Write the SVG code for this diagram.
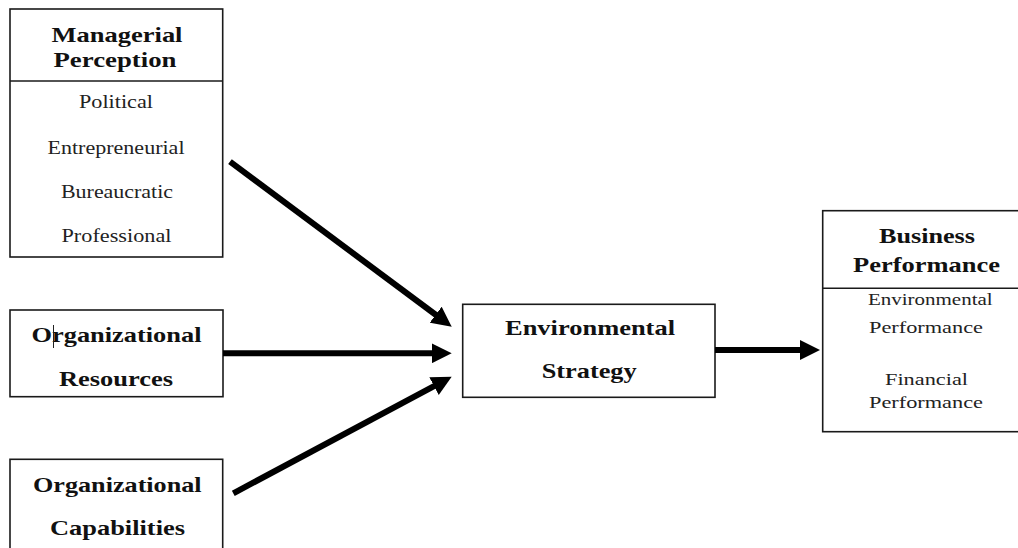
<svg xmlns="http://www.w3.org/2000/svg" width="1018" height="548" viewBox="0 0 1018 548">
<style>
.box{fill:#fff;stroke:#1a1a1a;stroke-width:1.6}
.div{stroke:#1a1a1a;stroke-width:1.4}
.b{font-family:"Liberation Serif","Times New Roman",serif;font-weight:bold;font-size:22px;fill:#111;text-anchor:middle}
.r{font-family:"Liberation Serif","Times New Roman",serif;font-size:18.5px;fill:#222;text-anchor:middle}
.rs{font-family:"Liberation Serif","Times New Roman",serif;font-size:17.5px;fill:#222;text-anchor:middle}
.arr{stroke:#000;stroke-width:6;fill:none;marker-end:url(#ah)}
</style>
<defs>
<marker id="ah" markerUnits="userSpaceOnUse" viewBox="0 0 20 20" markerWidth="20" markerHeight="20" refX="8" refY="10" orient="auto">
<path d="M0,0 L20,10 L0,20 z" fill="#000"/>
</marker>
</defs>
<rect width="1018" height="548" fill="#fff"/>
<g id="managerial-perception">
<rect class="box" x="10" y="9" width="212.7" height="248"/>
<line class="div" x1="10" y1="81" x2="222.7" y2="81"/>
<text class="b" x="117" y="42" textLength="131" lengthAdjust="spacingAndGlyphs">Managerial</text>
<text class="b" x="115" y="67" textLength="123" lengthAdjust="spacingAndGlyphs">Perception</text>
<text class="r" x="116" y="108" textLength="74" lengthAdjust="spacingAndGlyphs">Political</text>
<text class="r" x="116" y="154" textLength="137" lengthAdjust="spacingAndGlyphs">Entrepreneurial</text>
<text class="r" x="117" y="198" textLength="112" lengthAdjust="spacingAndGlyphs">Bureaucratic</text>
<text class="r" x="116.5" y="242" textLength="110" lengthAdjust="spacingAndGlyphs">Professional</text>
</g>
<g id="organizational-resources">
<rect class="box" x="10" y="310" width="213" height="86.7"/>
<text class="b" x="116.5" y="341.7" textLength="170" lengthAdjust="spacingAndGlyphs">Organizational</text>
<text class="b" x="116" y="386" textLength="114" lengthAdjust="spacingAndGlyphs">Resources</text>
<line x1="53.5" y1="325" x2="53.5" y2="348" stroke="#222" stroke-width="1"/>
</g>
<g id="organizational-capabilities">
<rect class="box" x="10" y="459.3" width="212.7" height="110"/>
<text class="b" x="117.3" y="491.7" textLength="168.7" lengthAdjust="spacingAndGlyphs">Organizational</text>
<text class="b" x="117.5" y="535" textLength="135" lengthAdjust="spacingAndGlyphs">Capabilities</text>
</g>
<g id="environmental-strategy">
<rect class="box" x="462.7" y="304.3" width="252.3" height="93"/>
<text class="b" x="590" y="335" textLength="170" lengthAdjust="spacingAndGlyphs">Environmental</text>
<text class="b" x="589.2" y="378.3" textLength="95" lengthAdjust="spacingAndGlyphs">Strategy</text>
</g>
<g id="business-performance">
<rect class="box" x="822.7" y="210.7" width="208" height="221"/>
<line class="div" x1="822.7" y1="288.3" x2="1030.7" y2="288.3"/>
<text class="b" x="927" y="243.3" textLength="96" lengthAdjust="spacingAndGlyphs">Business</text>
<text class="b" x="926.5" y="271.7" textLength="147" lengthAdjust="spacingAndGlyphs">Performance</text>
<text class="rs" x="930.3" y="305" textLength="124.7" lengthAdjust="spacingAndGlyphs">Environmental</text>
<text class="rs" x="926" y="333" textLength="114" lengthAdjust="spacingAndGlyphs">Performance</text>
<text class="rs" x="926.5" y="385" textLength="83" lengthAdjust="spacingAndGlyphs">Financial</text>
<text class="rs" x="926" y="408.3" textLength="114" lengthAdjust="spacingAndGlyphs">Performance</text>
</g>
<g id="connectors">
<line class="arr" x1="230" y1="161.7" x2="442.1" y2="319.5"/>
<line class="arr" x1="223" y1="353.3" x2="439.7" y2="353.3"/>
<line class="arr" x1="233.3" y1="493.3" x2="441.1" y2="382.4"/>
<line class="arr" x1="715" y1="350" x2="808" y2="350"/>
</g>
</svg>
